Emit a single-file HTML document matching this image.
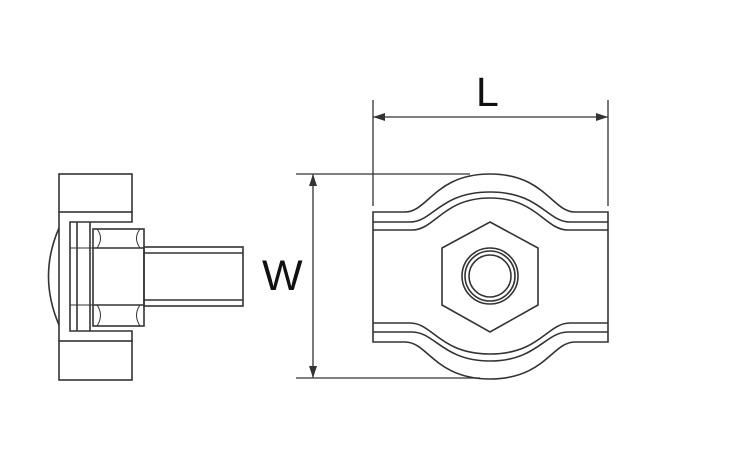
<!DOCTYPE html>
<html><head><style>
html,body{margin:0;padding:0;background:#fff;width:744px;height:475px;overflow:hidden}
svg{display:block}
text{font-family:"Liberation Sans",sans-serif;fill:#111}
</style></head><body>
<svg width="744" height="475" viewBox="0 0 744 475" xmlns="http://www.w3.org/2000/svg">
<g fill="none" stroke="#333" stroke-width="1.6">
<!-- Left view -->
<rect x="59" y="174" width="73" height="38"/>
<rect x="59" y="341" width="73" height="39"/>
<line x1="59" y1="212" x2="59" y2="341"/>
<polyline points="132,212 132,222 70,222 70,331 132,331 132,341"/>
<line x1="77" y1="222" x2="77" y2="331"/>
<line x1="90" y1="222" x2="90" y2="331"/>
<line x1="70" y1="248" x2="93" y2="248" stroke-width="1"/>
<line x1="70" y1="305" x2="93" y2="305" stroke-width="1"/>
<path d="M59,228 Q38,276 59,325"/>
<rect x="93" y="229" width="51" height="97"/>
<line x1="93" y1="248" x2="144" y2="248"/>
<line x1="93" y1="305" x2="144" y2="305"/>
<path d="M97,229 Q104,238 97,248 M140,229 Q133,238 140,248 M97,305 Q104,315 97,326 M140,305 Q133,315 140,326" stroke-width="1"/>
<rect x="144" y="247" width="99" height="59"/>
<line x1="144" y1="253" x2="243" y2="253"/>
<line x1="144" y1="300" x2="243" y2="300"/>
<!-- Right view body -->
<path d="M373,212 L405,212 C428,212 435,174 490,174 C545,174 552,212 575,212 L608,212 L608,342 L575,342 C552,342 545,379 490,379 C435,379 428,342 405,342 L373,342 Z"/>
<path d="M373,222 L410,222 C433,222 440,192 490,192 C540,192 547,222 570,222 L608,222"/>
<path d="M373,230 L412,230 C435,230 443,198 490,198 C537,198 545,230 568,230 L608,230"/>
<path d="M373,323 L410,323 C433,323 440,354 490,354 C540,354 547,323 570,323 L608,323"/>
<path d="M373,332 L412,332 C435,332 443,361 490,361 C537,361 545,332 568,332 L608,332"/>
<polygon points="490,222 538,248 538,305 490,332 442,305 442,248"/>
<circle cx="490" cy="276" r="28"/>
<circle cx="490" cy="276" r="25"/>
<circle cx="490" cy="276" r="21"/>
<!-- dimensions -->
<g stroke-width="1.3">
<line x1="373" y1="100" x2="373" y2="206"/>
<line x1="608" y1="100" x2="608" y2="206"/>
<line x1="373" y1="117" x2="608" y2="117"/>
<line x1="296" y1="174" x2="470" y2="174"/>
<line x1="296" y1="378" x2="480" y2="378"/>
<line x1="313" y1="174" x2="313" y2="378"/>
</g>
</g>
<g fill="#333">
<polygon points="373,117 385,113 385,121"/>
<polygon points="608,117 596,113 596,121"/>
<polygon points="313,174 309,186 317,186"/>
<polygon points="313,378 309,366 317,366"/>
</g>
<text x="476" y="106" font-size="41">L</text>
<text x="262" y="290" font-size="43">W</text>
</svg>
</body></html>
